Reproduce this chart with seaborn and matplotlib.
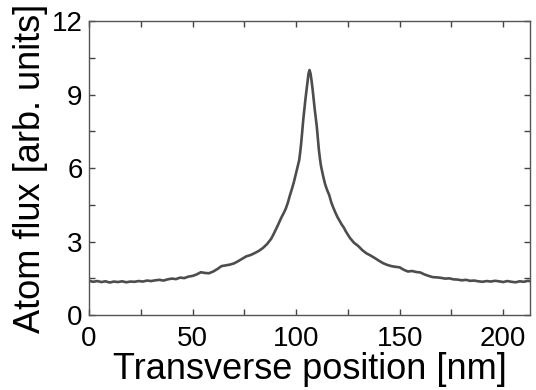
import matplotlib
matplotlib.use("Agg")
import matplotlib.pyplot as plt
import seaborn as sns
import pandas as pd
from matplotlib.ticker import MultipleLocator

position_nm = [
    0, 2, 4, 6, 8, 10, 12, 14, 16, 18, 20, 22, 24, 26, 28, 30, 32, 34, 36, 38,
    40, 42, 44, 46, 48, 50, 52, 54, 56, 58, 60, 62, 64, 66, 68, 70, 72, 74, 76, 78,
    80, 82, 84, 86, 88, 89, 90, 91, 92, 93, 94, 95, 96, 97, 98, 99, 100, 101,
    101.5, 102, 102.5, 103, 103.5, 104, 104.5, 105, 105.5, 106, 106.5, 107, 107.5,
    108, 108.5, 109, 109.5, 110, 110.5, 111, 111.5, 112, 113, 114, 115, 116, 117,
    118, 119, 120, 121, 122, 123, 124, 126, 128, 130, 132, 134, 136, 138, 140, 142,
    144, 146, 148, 150, 152, 154, 156, 158, 160, 162, 164, 166, 168, 170, 172, 174,
    176, 178, 180, 182, 184, 186, 188, 190, 192, 194, 196, 198, 200, 202, 204, 206,
    208, 210, 212, 214,
]
atom_flux = [
    1.40, 1.36, 1.39, 1.35, 1.38, 1.33, 1.37, 1.35, 1.38, 1.34, 1.37, 1.36, 1.39, 1.37,
    1.41, 1.39, 1.42, 1.44, 1.41, 1.46, 1.49, 1.47, 1.53, 1.51, 1.57, 1.60, 1.66, 1.75,
    1.72, 1.71, 1.78, 1.88, 2.00, 2.03, 2.06, 2.11, 2.20, 2.30, 2.40, 2.45, 2.53, 2.62,
    2.74, 2.90, 3.12, 3.28, 3.45, 3.63, 3.82, 4.00, 4.16, 4.34, 4.58, 4.88, 5.15, 5.45,
    5.80, 6.15, 6.32, 6.65, 7.05, 7.55, 8.00, 8.40, 8.80, 9.15, 9.50, 9.85, 10.0, 9.85,
    9.55, 9.20, 8.80, 8.40, 8.05, 7.70, 7.20, 6.75, 6.40, 6.10, 5.70, 5.35, 5.10, 4.90,
    4.60, 4.38, 4.18, 4.00, 3.85, 3.70, 3.58, 3.42, 3.15, 2.95, 2.82, 2.65, 2.52, 2.43,
    2.33, 2.22, 2.12, 2.05, 2.00, 1.97, 1.95, 1.85, 1.78, 1.80, 1.76, 1.74, 1.66, 1.60,
    1.55, 1.54, 1.52, 1.49, 1.50, 1.46, 1.45, 1.42, 1.44, 1.40, 1.41, 1.38, 1.36, 1.39,
    1.37, 1.40, 1.38, 1.35, 1.39, 1.36, 1.34, 1.38, 1.36, 1.40, 1.37,
]
x_ticks = [0, 50, 100, 150, 200]
y_ticks = [0, 3, 6, 9, 12]

sns.set_style("ticks")
plt.rcParams["font.family"] = ["Liberation Sans", "DejaVu Sans"]
plt.rcParams["text.color"] = "black"
plt.rcParams["axes.labelcolor"] = "black"
plt.rcParams["xtick.labelcolor"] = "black"
plt.rcParams["ytick.labelcolor"] = "black"

df = pd.DataFrame({"x": position_nm, "y": atom_flux})

fig = plt.figure(figsize=(5.36, 3.90), dpi=100)
ax = fig.add_axes([0.166, 0.192, 0.823, 0.754])
sns.lineplot(data=df, x="x", y="y", ax=ax, color="#4d4d4d", linewidth=1.9)

ax.set_xlim(0, 213)
ax.set_ylim(0, 12)
ax.set_xticks(x_ticks)
ax.set_yticks(y_ticks)
ax.xaxis.set_minor_locator(MultipleLocator(25))
ax.yaxis.set_minor_locator(MultipleLocator(1.5))
ax.tick_params(which="both", direction="in", top=True, right=True,
               length=4, width=1, color="#444444")
ax.tick_params(axis="x", which="major", labelsize=20, pad=8, labelcolor="black")
ax.tick_params(axis="y", which="major", labelsize=20, pad=4.5, labelcolor="black")
for s in ax.spines.values():
    s.set_color("#555555")
    s.set_linewidth(1.0)

ax.set_xlabel("Transverse position [nm]", fontsize=26, labelpad=0, color="black")
ax.set_ylabel("Atom flux [arb. units]", fontsize=26, labelpad=3, color="black")

fig.savefig("out.png", dpi=100)
